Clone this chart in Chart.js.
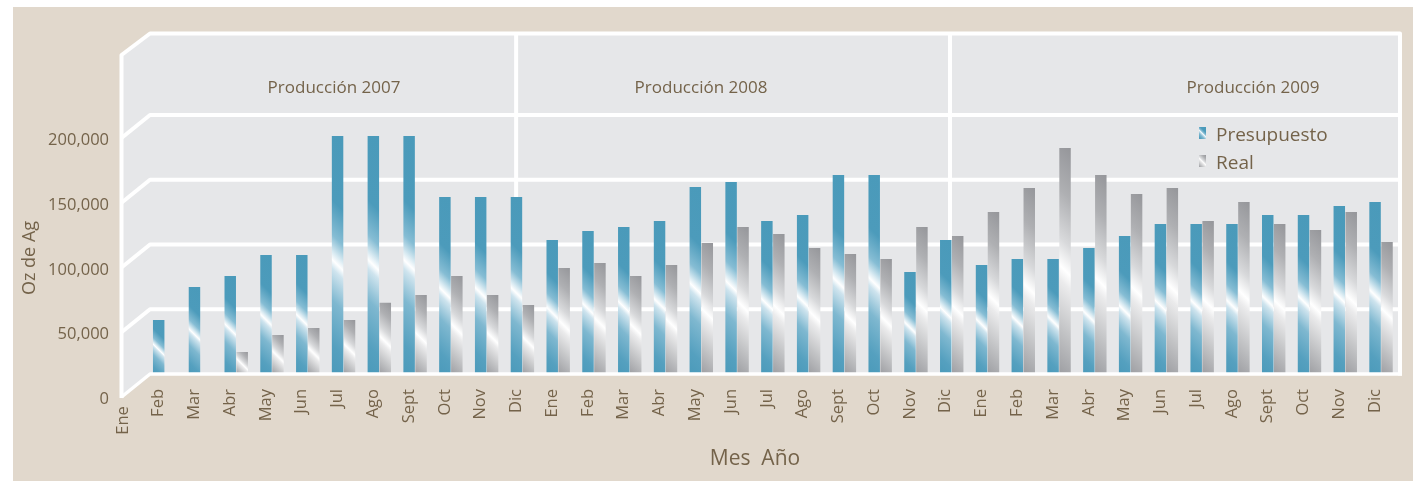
<!DOCTYPE html>
<html>
<head>
<meta charset="utf-8">
<script src="https://cdn.jsdelivr.net/npm/chart.js@4.4.1/dist/chart.umd.min.js"></script>
<style>
html,body{margin:0;padding:0;background:#ffffff;}
canvas{display:block;}
</style>
</head>
<body>
<canvas id="c" width="1416" height="481"></canvas>
<script>
// ---------------- data ----------------
const months = ['Ene','Feb','Mar','Abr','May','Jun','Jul','Ago','Sept','Oct','Nov','Dic'];
const categories = [].concat(months, months, months);            // 2007, 2008, 2009
const yearTitles = ['Producción 2007', 'Producción 2008', 'Producción 2009'];
const seriesNames = ['Presupuesto', 'Real'];
const presupuesto = [
  null, 41700, 67200, 75700, 91900, 91900, 183800, 183800, 183800, 136700, 136700, 136700,
  103500, 110400, 113500, 118100, 144400, 148300, 118100, 122800, 153700, 153700, 78800, 103500,
  84200, 88800, 88800, 97300, 106600, 115800, 115800, 115800, 122800, 122800, 129700, 132800
];
const real = [
  null, null, null, 17000, 30100, 35500, 41700, 55100, 61000, 75700, 61000, 53300,
  81900, 85700, 75700, 84200, 101200, 113500, 108100, 97300, 92700, 88800, 113500, 106600,
  125100, 143600, 174500, 153700, 139000, 143600, 118100, 132800, 115800, 111200, 125100, 101900
];
const yTicks = [0, 50000, 100000, 150000, 200000];
const yMax = 262500;

// ---------------- style ----------------
const FONT = "'Open Sans', 'Noto Sans', sans-serif";
const WEIGHT = '500';
const TEXT = '#74634a';
const BEIGE = '#e1d8cc';
const WALL = '#e6e7e9';
const CAT_PCT = 0.668, BAR_PCT = 0.96;
const BLUE_STOPS = [[0,'#4a9aba'],[0.30,'#4c9bbb'],[0.44,'#86bdd4'],[0.51,'#dcecf3'],[0.54,'#ffffff'],[0.575,'#cfe4ee'],[0.70,'#7fb8d0'],[0.88,'#55a0bf'],[1,'#4b9aba']];
const GRAY_STOPS = [[0,'#95969a'],[0.22,'#afb0b3'],[0.42,'#d8d9db'],[0.54,'#ffffff'],[0.60,'#ebebec'],[0.80,'#c3c4c6'],[1,'#9d9ea2']];

function diagGrad(c, left, top, w, h, stops) {
  const k = (w + h) / 2;
  const g = c.createLinearGradient(left + w, top, left + w - k, top + k);
  stops.forEach(s => g.addColorStop(s[0], s[1]));
  return g;
}
function barFill(ctx, which) {
  const stops = which === 0 ? BLUE_STOPS : GRAY_STOPS;
  const chart = ctx.chart;
  if (ctx.type !== 'data' || ctx.raw == null || !chart.scales || !chart.scales.x || !chart.scales.y) return stops[0][1];
  const xs = chart.scales.x, ys = chart.scales.y;
  const cw = xs.getPixelForValue(1) - xs.getPixelForValue(0);
  const slot = cw * CAT_PCT / 2;
  const w = slot * BAR_PCT;
  const cx = xs.getPixelForValue(ctx.dataIndex) + (which === 0 ? -slot / 2 : slot / 2);
  const top = ys.getPixelForValue(ctx.raw), bot = ys.getPixelForValue(0);
  if (!isFinite(top) || !isFinite(cx)) return stops[0][1];
  return diagGrad(chart.ctx, cx - w / 2, top, w, bot - top, stops);
}

// 3D-ish walls, grid, separators, labels
const DEPTH_X = -28.5, DEPTH_Y = 23;
const wallPlugin = {
  id: 'walls',
  beforeDraw(chart) {
    const c = chart.ctx, ys = chart.scales.y, xs = chart.scales.x;
    const backL = 150, backR = 1400;
    const top = 33.5, floor = ys.getPixelForValue(0);
    c.save();
    c.fillStyle = BEIGE;
    c.fillRect(13, 7, 1400, 474);
    // walls fill
    c.fillStyle = WALL;
    c.beginPath();
    c.moveTo(backL + DEPTH_X, top + 21.5);
    c.lineTo(backL, top);
    c.lineTo(backR, top);
    c.lineTo(backR, floor);
    c.lineTo(backL, floor);
    c.lineTo(backL + DEPTH_X, floor + DEPTH_Y);
    c.closePath();
    c.fill();
    c.strokeStyle = '#ffffff';
    c.lineWidth = 4;
    c.lineJoin = 'round';
    c.lineCap = 'butt';
    // gridlines with slanted side-wall parts
    yTicks.forEach(v => {
      if (v === 0) return;
      const y = ys.getPixelForValue(v);
      c.beginPath();
      c.moveTo(backL + DEPTH_X, y + DEPTH_Y);
      c.lineTo(backL, y);
      c.lineTo(backR - 2, y);
      c.stroke();
    });
    // outline: left edge, top edge, right edge
    c.beginPath();
    c.moveTo(backL + DEPTH_X, floor + DEPTH_Y + 1);
    c.lineTo(backL + DEPTH_X, top + 21.5);
    c.lineTo(backL, top);
    c.lineTo(backR, top);
    c.lineTo(backR, floor + 1.5);
    c.stroke();
    // year separators (between Dic and Ene)
    const seps = [xs.getPixelForValue(11) - 6.3, xs.getPixelForValue(23) - 1.7];
    seps.forEach(x => {
      c.beginPath();
      c.moveTo(x, top);
      c.lineTo(x, floor);
      c.stroke();
    });
    // year titles
    c.fillStyle = TEXT;
    c.font = WEIGHT + ' 17px ' + FONT;
    c.textAlign = 'center';
    c.textBaseline = 'alphabetic';
    const yearX = [334, 701, 1253];
    yearTitles.forEach((t, i) => c.fillText(t, yearX[i], 93));
    // y axis title
    c.save();
    c.translate(35, 258);
    c.rotate(-Math.PI / 2);
    c.font = WEIGHT + ' 18px ' + FONT;
    c.fillText('Oz de Ag', 0, 0);
    c.restore();
    c.restore();
  },
  afterDatasetsDraw(chart) {
    const c = chart.ctx, ys = chart.scales.y;
    const backL = 150, backR = 1400;
    const floor = ys.getPixelForValue(0);
    c.save();
    c.strokeStyle = '#ffffff';
    c.lineWidth = 3.5;
    c.lineJoin = 'round';
    c.beginPath();
    c.moveTo(backL + DEPTH_X, floor + DEPTH_Y);
    c.lineTo(backL, floor);
    c.lineTo(backR + 2, floor);
    c.stroke();
    // legend
    const lx = 1199, ly = [127, 155];
    [BLUE_STOPS, GRAY_STOPS].forEach((st, i) => {
      c.fillStyle = diagGrad(c, lx, ly[i], 7, 12, st);
      c.fillRect(lx, ly[i], 7, 12);
    });
    c.fillStyle = TEXT;
    c.font = WEIGHT + ' 19px ' + FONT;
    c.textAlign = 'left';
    c.textBaseline = 'alphabetic';
    c.fillText(seriesNames[0], 1216, 141);
    c.fillText(seriesNames[1], 1216, 169);
    c.restore();
  }
};

new Chart(document.getElementById('c'), {
  type: 'bar',
  data: {
    labels: categories,
    datasets: [
      { label: seriesNames[0], data: presupuesto, backgroundColor: ctx => barFill(ctx, 0) },
      { label: seriesNames[1], data: real, backgroundColor: ctx => barFill(ctx, 1) }
    ]
  },
  options: {
    responsive: false,
    animation: false,
    devicePixelRatio: 1,
    layout: { padding: { top: 34, right: 11.5, left: 0, bottom: 0 } },
    datasets: { bar: { categoryPercentage: CAT_PCT, barPercentage: BAR_PCT, borderWidth: 0 } },
    plugins: { legend: { display: false }, tooltip: { enabled: false } },
    scales: {
      x: {
        grid: { display: false, drawTicks: false },
        border: { display: false },
        ticks: {
          autoSkip: false, minRotation: 90, maxRotation: 90, padding: 15, labelOffset: -6,
          color: TEXT, font: { family: FONT, size: 16.5, weight: WEIGHT },
          callback: (v, i) => i === 0 ? categories[i] + '    ' : categories[i]
        },
        title: { display: true, text: 'Mes  Año', color: TEXT, font: { family: FONT, size: 21, weight: WEIGHT }, padding: { top: 0, bottom: 9 } },
        afterFit: s => { s.height = 107; }
      },
      y: {
        min: 0, max: yMax,
        afterBuildTicks: s => { s.ticks = yTicks.map(v => ({ value: v })); },
        grid: { display: false, drawTicks: false },
        border: { display: false },
        ticks: {
          padding: 2, labelOffset: 25.5, color: TEXT, font: { family: FONT, size: 16.5, weight: WEIGHT },
          callback: v => Number(v).toLocaleString('en-US')
        },
        afterFit: s => { s.width = 111; }
      }
    }
  },
  plugins: [wallPlugin]
});
</script>
</body>
</html>
